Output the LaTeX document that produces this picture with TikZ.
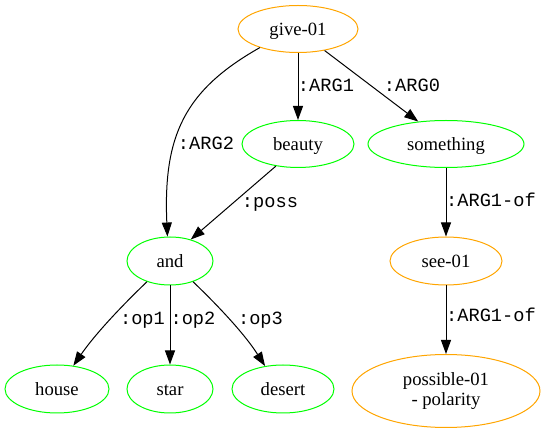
\documentclass[tikz,border=0pt]{standalone}
\usepackage{fontspec}
\setmainfont{Liberation Serif}
\newfontfamily\edgefont{Liberation Mono}
\usetikzlibrary{arrows.meta,shapes.geometric}
\definecolor{gvorange}{HTML}{FFA500}
\definecolor{gvgreen}{HTML}{00FF00}
\begin{document}
\begin{tikzpicture}[x=0.75pt,y=-0.75pt,
  concept/.style={ellipse,draw,line width=0.75pt,inner sep=0pt,
    font=\fontsize{14}{14.5}\selectfont,text height=11pt,text depth=0.5pt},
  frame/.style={concept,draw=gvorange},
  entity/.style={concept,draw=gvgreen},
  rel/.style={line width=0.75pt,-{Triangle[length=10.5pt,width=7.5pt]}},
  role/.style={anchor=base,inner sep=0pt,font=\edgefont\fontsize{14}{14}\selectfont}]
\useasboundingbox (0,0) rectangle (544,431);

% concepts
\node[frame,minimum width=90pt,minimum height=35.25pt] (give) at (298,29) {give-01};
\node[entity,minimum width=84pt,minimum height=35.25pt] (beauty) at (298,144) {beauty};
\node[entity,minimum width=117pt,minimum height=35.25pt] (something) at (446,144) {something};
\node[entity,minimum width=64.5pt,minimum height=36pt] (and) at (170,261) {and};
\node[frame,minimum width=84pt,minimum height=36pt] (see) at (446,261) {see-01};
\node[entity,minimum width=78pt,minimum height=36pt] (house) at (57,389) {house};
\node[entity,minimum width=64.5pt,minimum height=36pt] (star) at (170,389) {star};
\node[entity,minimum width=76.5pt,minimum height=36pt] (desert) at (283,389) {desert};
\node[frame,minimum width=141pt,minimum height=54.75pt,align=center,
  text height=,text depth=] (possible) at (446,391) {possible-01\\- polarity};

% relations
\draw[rel] (give.206) .. controls (185,90) and (163,135) .. (and.96);
\draw[rel] (give.south) -- (beauty.north);
\draw[rel] (give.-39) -- (something.141);
\draw[rel] (beauty.225) -- (and.46);
\draw[rel] (something.south) -- (see.north);
\draw[rel] (see.south) -- (possible.north);
\draw[rel] (and.222) .. controls (130,298) and (98,330) .. (house.55);
\draw[rel] (and.south) -- (star.north);
\draw[rel] (and.318) .. controls (210,298) and (242,330) .. (desert.128);

% role labels
\node[role] (l-arg2) at (206,150) {:ARG2};
\node[role] (l-arg1) at (326,92) {:ARG1};
\node[role] (l-arg0) at (412,92) {:ARG0};
\node[role] (l-poss) at (270,208) {:poss};
\node[role] (l-op1) at (142.5,325) {:op1};
\node[role] (l-op2) at (193,325) {:op2};
\node[role] (l-op3) at (260.5,325) {:op3};
\node[role] (l-of1) at (491,207) {:ARG1-of};
\node[role] (l-of2) at (491,322) {:ARG1-of};
\end{tikzpicture}
\end{document}
